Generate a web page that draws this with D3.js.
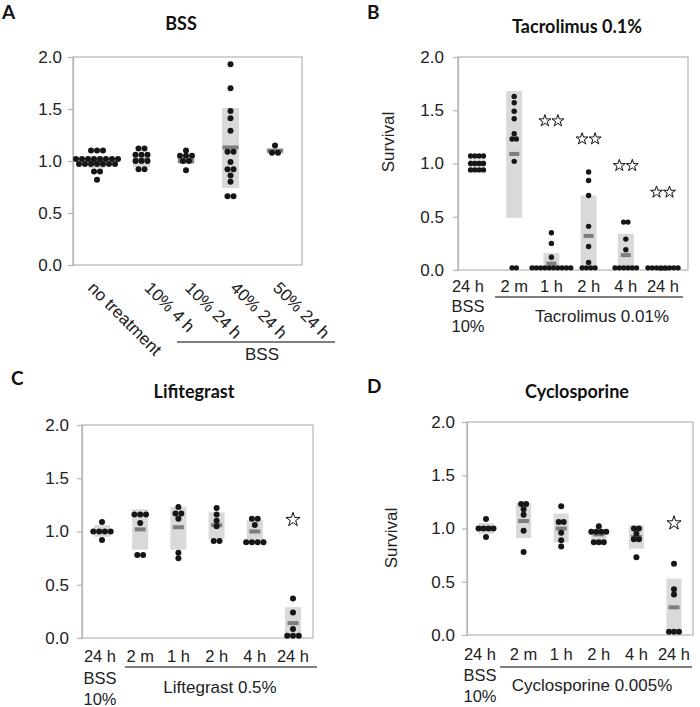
<!DOCTYPE html>
<html><head><meta charset="utf-8">
<script src="https://cdn.jsdelivr.net/npm/d3@7/dist/d3.min.js"></script>
<style>body{margin:0;background:#fff}</style>
</head><body>
<svg id="chart" width="700" height="707"></svg>
<script>
// ---------------- DATA ----------------
const yTicks = [0, 0.5, 1.0, 1.5, 2.0];

// Panel A: BSS
const catsA = ["no treatment", "10% 4 h", "10% 24 h", "40% 24 h", "50% 24 h"];
const dotsA = [
  [1.10,1.10,1.10, 1.02,1.02,1.02,1.02,1.02,1.02,1.02,1.02, 0.97,0.97,0.97,0.97,0.97,0.97,0.97, 0.90,0.90, 0.82],
  [1.12,1.12, 1.06,1.06,1.06, 1.00,1.00,1.00, 0.92,0.92],
  [1.10, 1.05,1.05,1.05, 1.00,1.00, 0.91],
  [1.93,1.70,1.48,1.41,1.29,1.09,1.09,0.99,0.92,0.92,0.86,0.80,0.66,0.66],
  [1.15,1.08,1.08]
];
const meanA = [0.99, 1.01, 1.00, 1.13, 1.10];
const lowA  = [0.93, 0.94, 0.97, 0.74, 1.07];
const highA = [1.05, 1.07, 1.04, 1.51, 1.12];
const starA = [null, null, null, null, null];

// Panel B: Tacrolimus
const catsB = ["24 h|BSS|10%", "2 m", "1 h", "2 h", "4 h", "24 h"];
const dotsB = [
  [1.07,1.07,1.07,1.07, 1.00,1.00,1.00,1.00, 0.94,0.94,0.94,0.94],
  [1.63,1.57,1.49,1.42,1.28,1.23,1.23,1.02,0.02,0.02],
  [0.35,0.25,0.12, 0.02,0.02,0.02,0.02,0.02,0.02,0.02,0.02,0.02,0.02],
  [0.92,0.84,0.70,0.41,0.22,0.07, 0.02,0.02,0.02,0.02],
  [0.45,0.45,0.29,0.19, 0.02,0.02,0.02,0.02,0.02,0.02],
  [0.02,0.02,0.02,0.02,0.02,0.02,0.02,0.02]
];
const meanB = [1.00, 1.09, 0.06, 0.32, 0.14, 0.01];
const lowB  = [0.96, 0.49, 0.00, 0.00, 0.00, 0.00];
const highB = [1.04, 1.68, 0.16, 0.70, 0.34, 0.02];
const starB = [null, null, 1.41, 1.24, 0.99, 0.74];

// Panel C: Lifitegrast
const catsC = ["24 h|BSS|10%", "2 m", "1 h", "2 h", "4 h", "24 h"];
const dotsC = [
  [1.09, 1.00,1.00,1.00,1.00, 0.92],
  [1.16,1.16,1.16, 1.08, 0.78,0.78],
  [1.23, 1.17,1.17, 1.12, 0.80, 0.75],
  [1.22, 1.16, 1.10, 1.05, 0.91,0.91],
  [1.12,1.12, 1.06, 0.90,0.90,0.90,0.90],
  [0.37, 0.24, 0.085, 0.02,0.02,0.02]
];
const meanC = [1.00, 1.02, 1.04, 1.06, 1.00, 0.14];
const lowC  = [0.95, 0.83, 0.83, 0.93, 0.91, 0.00];
const highC = [1.06, 1.21, 1.23, 1.18, 1.11, 0.29];
const starC = [null, null, null, null, null, 1.12];

// Panel D: Cyclosporine
const catsD = ["24 h|BSS|10%", "2 m", "1 h", "2 h", "4 h", "24 h"];
const dotsD = [
  [1.09, 1.00,1.00,1.00,1.00, 0.92],
  [1.23,1.23, 1.18, 1.13, 0.98, 0.78],
  [1.21, 1.06,1.06, 0.96, 0.89, 0.83],
  [1.02, 0.97,0.97,0.97,0.97, 0.87,0.87,0.87],
  [1.00,1.00, 0.95, 0.90,0.90, 0.73],
  [0.67, 0.43, 0.38, 0.03,0.03,0.03]
];
const meanD = [1.00, 1.07, 1.00, 0.945, 0.92, 0.26];
const lowD  = [0.95, 0.91, 0.87, 0.87, 0.81, 0.00];
const highD = [1.05, 1.24, 1.14, 0.99, 1.03, 0.53];
const starD = [null, null, null, null, null, 1.06];

// ---------------- LAYOUT ----------------
const panels = [
  {letter:"A", title:"BSS", cats:catsA, dots:dotsA, mean:meanA, low:lowA, high:highA, star:starA, nStar:2,
   x0:73, x1:302, yb:265, yt:57, padL:24, padR:27, letterPos:[2,19], titlePos:[181,30], tickPad:6,
   boxW:17, meanW:16, sp:6, r:3, rotated:true, rotOff:[-10,2,-2,-1,-3], rotY:289,
   group:{text:"BSS", x1:177, x2:335, y:342, tx:262, ty:360}},
  {letter:"B", title:"Tacrolimus 0.1%", cats:catsB, dots:dotsB, mean:meanB, low:lowB, high:highB, star:starB, nStar:2,
   x0:458, x1:688, yb:270, yt:57, padL:19, padR:25, letterPos:[367,19], titlePos:[577,33], tickPad:9,
   boxW:16, meanW:10, sp:4.3, r:2.7, labY:292, labGap:20, firstShift:-9, ylab:[390,142],
   group:{text:"Tacrolimus 0.01%", x1:495, x2:683, y:297, tx:602, ty:322}},
  {letter:"C", title:"Lifitegrast", cats:catsC, dots:dotsC, mean:meanC, low:lowC, high:highC, star:starC, nStar:1,
   x0:82, x1:313, yb:638, yt:425, padL:20, padR:20, letterPos:[11,385], titlePos:[194,398], tickPad:8,
   boxW:16, meanW:11, sp:5.8, r:3, labY:662, labGap:21.5, firstShift:-2,
   group:{text:"Liftegrast 0.5%", x1:125, x2:317, y:667, tx:220, ty:693}},
  {letter:"D", title:"Cyclosporine", cats:catsD, dots:dotsD, mean:meanD, low:lowD, high:highD, star:starD, nStar:1,
   x0:467, x1:693, yb:635, yt:422, padL:19, padR:19, letterPos:[367,393], titlePos:[577,398], tickPad:7,
   boxW:15, meanW:11, sp:5, r:3, labY:660, labGap:21, firstShift:-6, ylab:[393,538],
   group:{text:"Cyclosporine 0.005%", x1:500, x2:692, y:667, tx:592, ty:691}}
];

const svg = d3.select("#chart");
const SANS = "Arial, 'Liberation Sans', Helvetica, sans-serif";
const BOLD = "Lato, 'Open Sans', sans-serif";

panels.forEach(p => {
  const g = svg.append("g");
  const x = d3.scalePoint().domain(p.cats).range([p.x0 + p.padL, p.x1 - p.padR]);
  const y = d3.scaleLinear().domain([0, 2]).range([p.yb, p.yt]);

  // frame
  g.append("rect").attr("x", p.x0).attr("y", p.yt).attr("width", p.x1 - p.x0).attr("height", p.yb - p.yt)
    .attr("fill", "none").attr("stroke", "#b4b4b4").attr("stroke-width", 1.2);

  // y axis
  const ax = g.append("g").attr("transform", `translate(${p.x0},0)`)
    .call(d3.axisLeft(y).tickValues(yTicks).tickFormat(d3.format(".1f")).tickSize(5).tickPadding(p.tickPad));
  ax.select(".domain").attr("stroke", "#b4b4b4").attr("stroke-width", 1.2);
  ax.selectAll(".tick line").attr("stroke", "#b4b4b4").attr("stroke-width", 1.2);
  ax.selectAll(".tick text").attr("font-family", SANS).attr("font-size", 17).attr("fill", "#222");

  // boxes (mean ± spread)
  g.selectAll(".box").data(p.cats).enter().append("rect")
    .attr("x", d => x(d) - p.boxW / 2).attr("width", p.boxW)
    .attr("y", (d, i) => y(p.high[i])).attr("height", (d, i) => Math.max(0, y(p.low[i]) - y(p.high[i])))
    .attr("fill", "#d9d9d9");
  // mean bars
  g.selectAll(".mean").data(p.cats).enter().append("rect")
    .attr("x", d => x(d) - p.meanW / 2).attr("width", p.meanW)
    .attr("y", (d, i) => y(p.mean[i]) - 2).attr("height", 4)
    .attr("fill", "#7d7d7d");

  // dots (rows of equal values spread horizontally)
  p.cats.forEach((c, i) => {
    const rows = d3.groups(p.dots[i], v => v.toFixed(3));
    rows.forEach(([k, vals]) => {
      const n = vals.length;
      vals.forEach((v, j) => {
        g.append("circle").attr("cx", x(c) + (j - (n - 1) / 2) * p.sp).attr("cy", y(v))
          .attr("r", p.r).attr("fill", "#161616");
      });
    });
    // stars
    if (p.star[i] != null) {
      for (let s = 0; s < p.nStar; s++) {
        const off = p.nStar === 1 ? 0 : (s - 0.5) * 13;
        g.append("path").attr("d", d3.symbol(d3.symbolStar, p.nStar === 1 ? 62 : 44)())
          .attr("transform", `translate(${x(c) + off},${y(p.star[i]) + 1})`)
          .attr("fill", "#fff").attr("stroke", "#111").attr("stroke-width", 1);
      }
    }
  });

  // category labels
  if (p.rotated) {
    p.cats.forEach((c, i) => {
      g.append("text").attr("transform", `translate(${x(c) + p.rotOff[i]},${p.rotY}) rotate(45)`)
        .attr("font-family", SANS).attr("font-size", 17).attr("fill", "#222").text(c);
    });
  } else {
    p.cats.forEach((c, i) => {
      const lines = c.split("|");
      lines.forEach((ln, k) => {
        g.append("text").attr("x", x(c) + (i === 0 ? p.firstShift : 0)).attr("y", p.labY + k * p.labGap)
          .attr("text-anchor", "middle").attr("font-family", SANS).attr("font-size", 16.5).attr("fill", "#222").text(ln);
      });
    });
  }

  // group underline + label
  g.append("line").attr("x1", p.group.x1).attr("x2", p.group.x2).attr("y1", p.group.y).attr("y2", p.group.y)
    .attr("stroke", "#555").attr("stroke-width", 1.3);
  g.append("text").attr("x", p.group.tx).attr("y", p.group.ty).attr("text-anchor", "middle")
    .attr("font-family", SANS).attr("font-size", 17).attr("fill", "#222").text(p.group.text);

  // y label
  if (p.ylab) {
    g.append("text").attr("transform", `translate(${p.ylab[0]},${p.ylab[1]}) rotate(-90)`)
      .attr("text-anchor", "middle").attr("dominant-baseline", "middle")
      .attr("font-family", SANS).attr("font-size", 17).attr("fill", "#222").text("Survival");
  }

  // title and letter
  g.append("text").attr("x", p.titlePos[0]).attr("y", p.titlePos[1]).attr("text-anchor", "middle")
    .attr("font-family", BOLD).attr("font-weight", 700).attr("font-size", 18).attr("fill", "#111").text(p.title);
  g.append("text").attr("x", p.letterPos[0]).attr("y", p.letterPos[1])
    .attr("font-family", BOLD).attr("font-weight", 700).attr("font-size", 19).attr("fill", "#111").text(p.letter);
});
</script>
</body></html>
